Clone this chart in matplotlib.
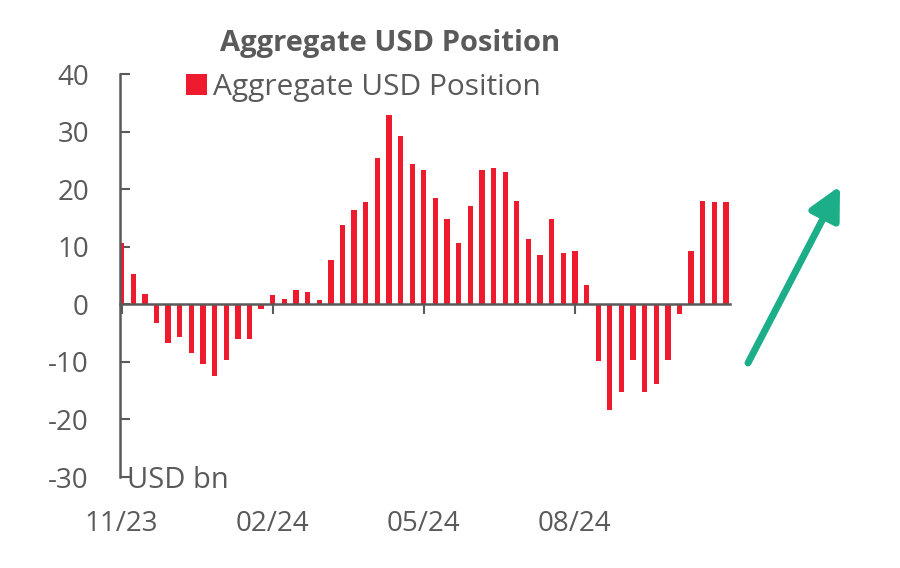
import pandas as pd
import matplotlib.pyplot as plt
from matplotlib.patches import FancyArrowPatch

plt.rcParams['font.family'] = ['Open Sans', 'DejaVu Sans']
plt.rcParams['axes.unicode_minus'] = False

# weekly data, USD bn
start_date = "2023-11-03"
usd_position = [10.6, 5.3, 1.85, -3.2, -6.8, -5.7, -8.5, -10.3, -12.4, -9.6,
                -6.1, -6.1, -0.75, 1.6, 1.0, 2.5, 2.2, 0.75, 7.7, 13.8,
                16.3, 17.7, 25.4, 32.8, 29.3, 24.4, 23.3, 18.4, 14.9, 10.6,
                17.0, 23.4, 23.6, 22.9, 18.0, 11.4, 8.6, 14.9, 8.9, 9.2,
                3.3, -9.9, -18.4, -15.2, -9.6, -15.2, -13.8, -9.6, -1.7, 9.2,
                18.0, 17.7, 17.7]
tick_idx = [0, 13, 26, 39]
y_ticks = [-30, -20, -10, 0, 10, 20, 30, 40]

dates = pd.date_range(start_date, periods=len(usd_position), freq="7D")

red = "#ee1b2e"
grey = "#5a5a5a"

fig = plt.figure(figsize=(9, 5.68), dpi=100)
ax = fig.add_axes([119.5 / 900, 1 - 477 / 568, 610.5 / 900, (477 - 74) / 568])

ax.bar(dates, usd_position, width=3.2, color=red, label="Aggregate USD Position", zorder=2)

ax.set_ylim(-30, 40)
ax.set_yticks(y_ticks)
ax.set_xlim(dates[0] - pd.Timedelta(days=1.3), dates[-1] + pd.Timedelta(days=2.4))
ax.set_xticks(dates[tick_idx])
ax.set_xticklabels([d.strftime("%m/%y") for d in dates[tick_idx]])

for s in ["top", "right"]:
    ax.spines[s].set_visible(False)
ax.spines["bottom"].set_position(("data", 0))
for s in ["left", "bottom"]:
    ax.spines[s].set_color(grey)
    ax.spines[s].set_linewidth(1.8)
    ax.spines[s].set_zorder(3)

ax.tick_params(axis="y", direction="in", length=7, width=1.5, color=grey,
               labelsize=20, labelcolor=grey, pad=22)
ax.tick_params(axis="x", direction="out", length=7, width=1.5, color=grey,
               labelsize=20, labelcolor=grey, pad=141)

ax.text(0.013, -0.008, "USD bn", transform=ax.transAxes, fontsize=21,
        color=grey, ha="left", va="center")

fig.text(390 / 900, 1 - 43 / 568, "Aggregate USD Position", fontsize=21,
         fontweight="bold", color=grey, ha="center", va="center")

ax.legend(loc="center left", bbox_to_anchor=(186 / 900, 1 - 87 / 568),
          bbox_transform=fig.transFigure, frameon=False, fontsize=21.5,
          handlelength=0.7, handleheight=0.7, handletextpad=0.2,
          borderpad=0, borderaxespad=0, labelcolor=grey)

arrow = FancyArrowPatch((748 / 900, 1 - 363 / 568), (840 / 900, 1 - 186 / 568),
                        transform=fig.transFigure,
                        arrowstyle="-|>,head_length=0.65,head_width=0.33",
                        mutation_scale=30, lw=5, color="#1cae88",
                        capstyle="round", shrinkA=0, shrinkB=0)
fig.add_artist(arrow)

fig.savefig("out.png", dpi=100)
